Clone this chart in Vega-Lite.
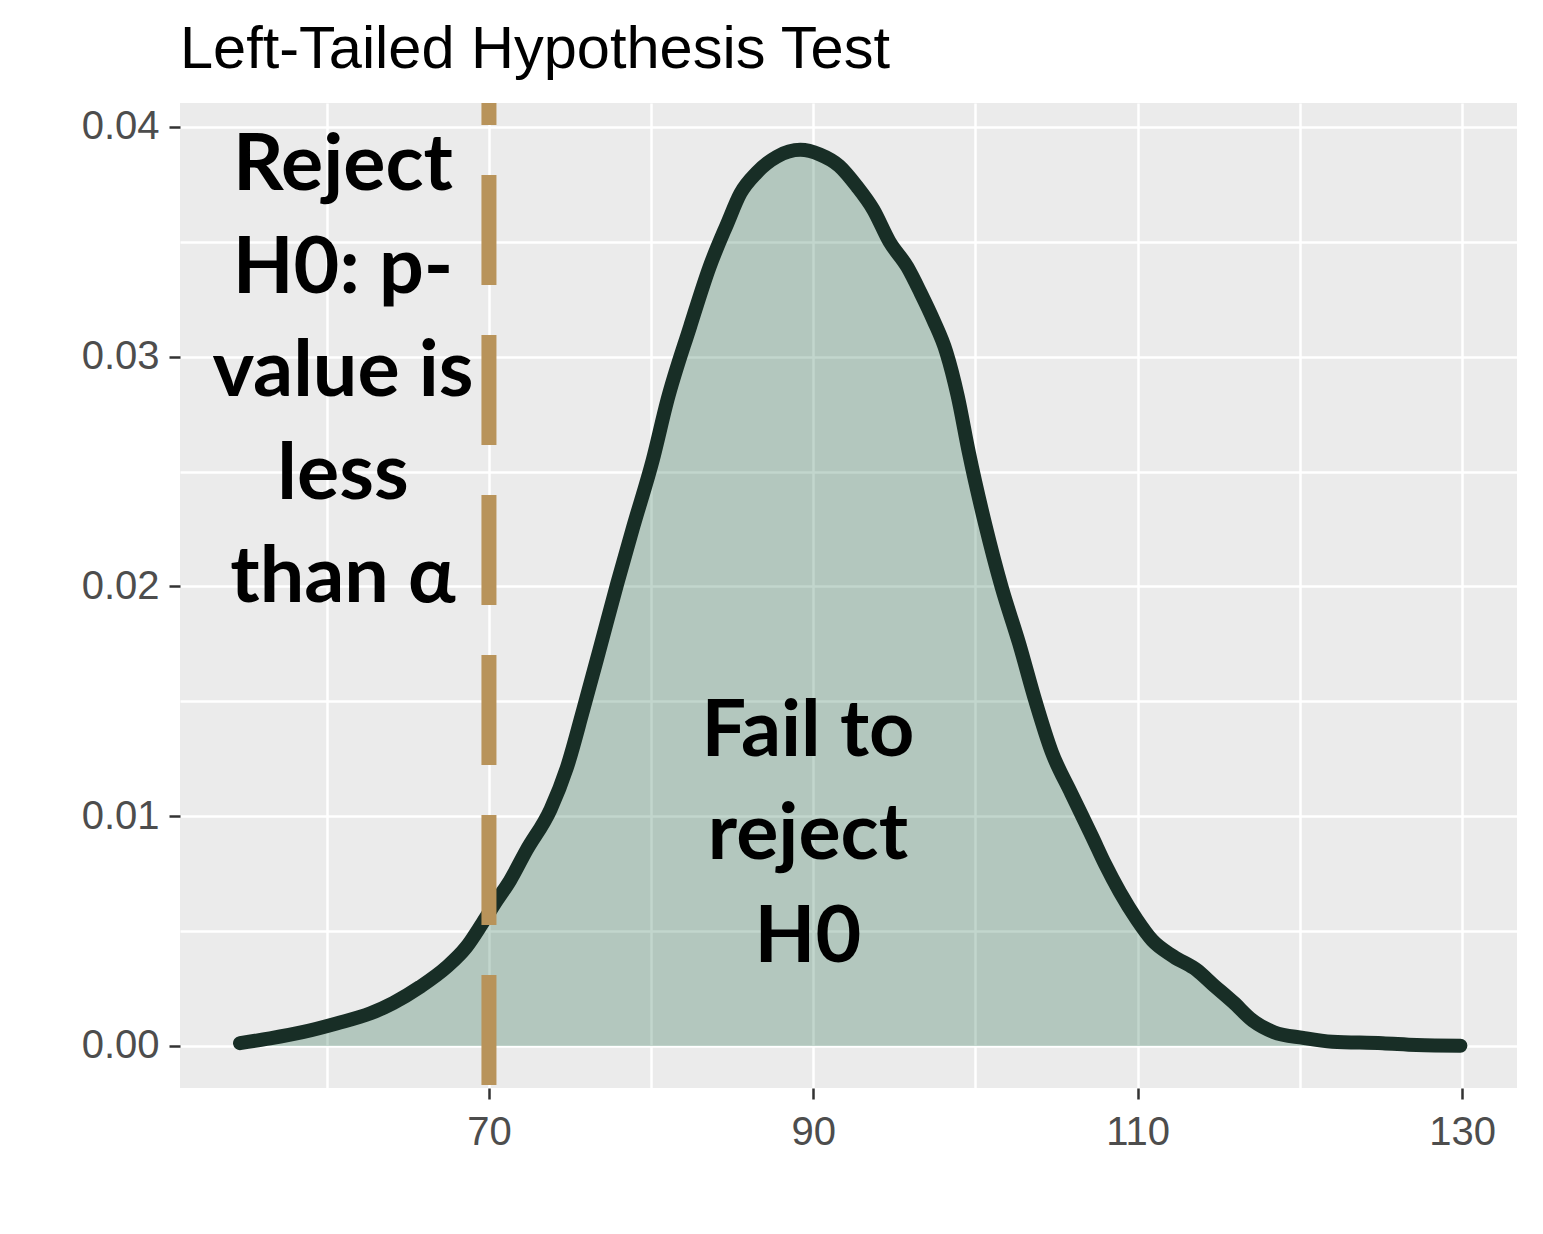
{
  "$schema": "https://vega.github.io/schema/vega-lite/v6.json",
  "width": 1337,
  "height": 985,
  "autosize": {"type": "none"},
  "padding": {"left": 180, "top": 103, "right": 26, "bottom": 146},
  "background": "white",
  "title": {
    "text": "Left-Tailed Hypothesis Test",
    "anchor": "start",
    "frame": "group",
    "font": "Liberation Sans",
    "fontSize": 59.5,
    "fontWeight": "normal",
    "color": "#000000",
    "baseline": "alphabetic",
    "offset": 33,
    "dy": 65
  },
  "datasets": {
    "curve": [
      {"x": 54.65, "density": 0.00012},
      {"x": 56.5, "density": 0.00033},
      {"x": 58.5, "density": 0.0006},
      {"x": 60.6, "density": 0.00098},
      {"x": 62.7, "density": 0.00142},
      {"x": 64.1, "density": 0.00187},
      {"x": 65.75, "density": 0.00257},
      {"x": 67.4, "density": 0.00344},
      {"x": 68.6, "density": 0.0043},
      {"x": 69.6, "density": 0.00535},
      {"x": 70.5, "density": 0.00635},
      {"x": 71.3, "density": 0.0072},
      {"x": 72.3, "density": 0.0085},
      {"x": 73.8, "density": 0.0103},
      {"x": 74.8, "density": 0.0121},
      {"x": 75.8, "density": 0.0146},
      {"x": 76.8, "density": 0.0172},
      {"x": 77.9, "density": 0.0201},
      {"x": 78.9, "density": 0.0226},
      {"x": 80.1, "density": 0.0255},
      {"x": 81.0, "density": 0.0281},
      {"x": 82.4, "density": 0.0313},
      {"x": 83.6, "density": 0.0339},
      {"x": 84.7, "density": 0.0358},
      {"x": 85.5, "density": 0.0371},
      {"x": 86.5, "density": 0.038},
      {"x": 87.75, "density": 0.0387},
      {"x": 89.2, "density": 0.039},
      {"x": 90.4, "density": 0.0388},
      {"x": 91.6, "density": 0.0383},
      {"x": 92.7, "density": 0.0374},
      {"x": 93.7, "density": 0.0364},
      {"x": 94.7, "density": 0.035},
      {"x": 95.8, "density": 0.0339},
      {"x": 96.6, "density": 0.0328},
      {"x": 97.4, "density": 0.0316},
      {"x": 98.2, "density": 0.0302},
      {"x": 98.9, "density": 0.0283},
      {"x": 99.6, "density": 0.0258},
      {"x": 100.6, "density": 0.0227},
      {"x": 101.6, "density": 0.02},
      {"x": 102.7, "density": 0.0175},
      {"x": 103.7, "density": 0.015},
      {"x": 104.7, "density": 0.0128},
      {"x": 105.9, "density": 0.011},
      {"x": 107.2, "density": 0.0091},
      {"x": 108.0, "density": 0.0079},
      {"x": 108.9, "density": 0.0067},
      {"x": 109.95, "density": 0.0055},
      {"x": 110.9, "density": 0.0046},
      {"x": 112.2, "density": 0.0039},
      {"x": 113.65, "density": 0.0033},
      {"x": 114.6, "density": 0.0027},
      {"x": 115.9, "density": 0.0019},
      {"x": 117.1, "density": 0.0011},
      {"x": 118.4, "density": 0.0006},
      {"x": 120.2, "density": 0.00035},
      {"x": 122.0, "density": 0.00018},
      {"x": 125.1, "density": 0.00012},
      {"x": 127.2, "density": 0.00004},
      {"x": 129.9, "density": 0.00001}
    ],
    "critical": [{"x": 70}],
    "notes": [
      {"x": 61.0, "density": 0.0383, "label": "Reject\nH0: p-\nvalue is\nless\nthan α"},
      {"x": 89.67, "density": 0.01367, "label": "Fail to\nreject\nH0"}
    ]
  },
  "encoding": {
    "x": {
      "field": "x",
      "type": "quantitative",
      "scale": {"domain": [50.95, 133.39], "nice": false, "zero": false},
      "axis": {
        "title": null,
        "values": [60, 70, 80, 90, 100, 110, 120, 130],
        "labelExpr": "datum.value % 20 == 10 ? datum.label : ''",
        "tickOpacity": {"condition": {"test": "datum.value % 20 == 10", "value": 1}, "value": 0},
        "domain": false,
        "grid": true,
        "gridColor": "#FFFFFF",
        "gridWidth": 2.5,
        "tickColor": "#333333",
        "tickWidth": 2.5,
        "tickSize": 11,
        "labelFont": "Liberation Sans",
        "labelFontSize": 40,
        "labelColor": "#4D4D4D",
        "labelPadding": 13,
        "labelFlush": false,
        "labelOverlap": false
      }
    },
    "y": {
      "field": "density",
      "type": "quantitative",
      "scale": {"domain": [-0.00183, 0.04104], "nice": false, "zero": false},
      "axis": {
        "title": null,
        "values": [0, 0.005, 0.01, 0.015, 0.02, 0.025, 0.03, 0.035, 0.04],
        "format": ".2f",
        "labelExpr": "abs(datum.value * 100 - round(datum.value * 100)) < 0.001 ? datum.label : ''",
        "tickOpacity": {"condition": {"test": "abs(datum.value * 100 - round(datum.value * 100)) < 0.001", "value": 1}, "value": 0},
        "domain": false,
        "grid": true,
        "gridColor": "#FFFFFF",
        "gridWidth": 2.5,
        "tickColor": "#333333",
        "tickWidth": 2.5,
        "tickSize": 11,
        "labelFont": "Liberation Sans",
        "labelFontSize": 40,
        "labelColor": "#4D4D4D",
        "labelPadding": 10,
        "labelFlush": false,
        "labelOverlap": false
      }
    }
  },
  "layer": [
    {
      "data": {"name": "curve"},
      "mark": {"type": "area", "color": "#0a5a38", "opacity": 0.25, "interpolate": "monotone"},
      "encoding": {"y2": {"datum": 0}}
    },
    {
      "data": {"name": "curve"},
      "mark": {"type": "line", "color": "#182e26", "strokeWidth": 14, "strokeCap": "round", "strokeJoin": "round", "interpolate": "monotone"},
      "encoding": {}
    },
    {
      "data": {"name": "critical"},
      "mark": {"type": "rule", "color": "#b8935a", "strokeWidth": 15, "strokeDash": [110, 50], "strokeDashOffset": 88},
      "encoding": {"x": {"field": "x", "type": "quantitative"}, "y": null}
    },
    {
      "data": {"name": "notes"},
      "mark": {"type": "text", "font": "Lato", "fontWeight": "bold", "fontSize": 79, "lineBreak": "\n", "lineHeight": 103, "align": "center", "baseline": "middle", "color": "#000000"},
      "encoding": {"text": {"field": "label", "type": "nominal"}}
    }
  ],
  "config": {"view": {"stroke": null, "fill": "#EBEBEB"}}
}
